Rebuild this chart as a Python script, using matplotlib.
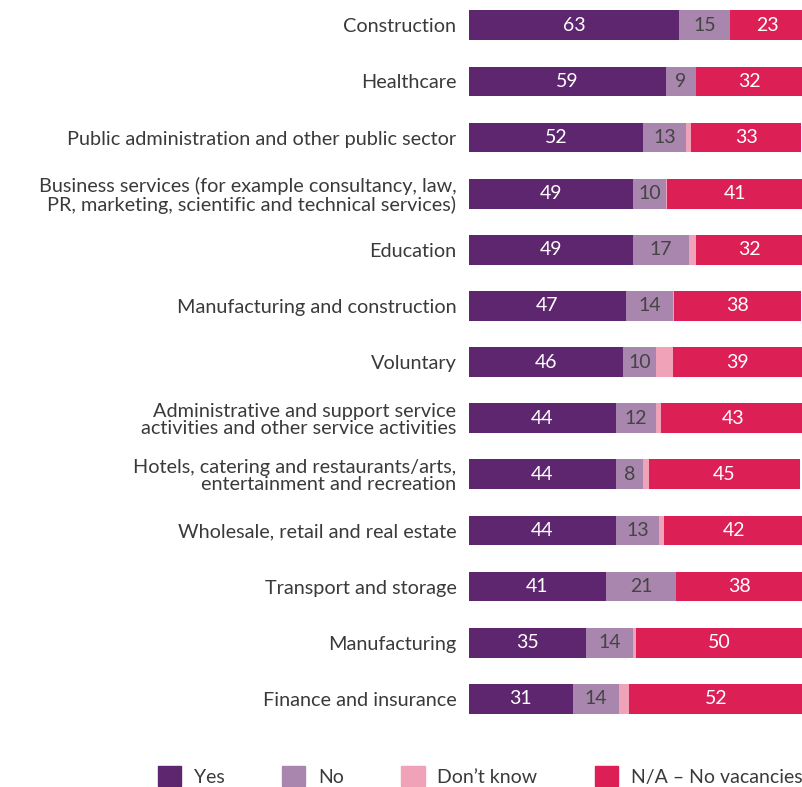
import matplotlib.pyplot as plt
import numpy as np
from matplotlib.patches import Patch

plt.rcParams['font.family'] = ['Lato', 'DejaVu Sans']

sectors = [
    "Construction",
    "Healthcare",
    "Public administration and other public sector",
    "Business services (for example consultancy, law,\nPR, marketing, scientific and technical services)",
    "Education",
    "Manufacturing and construction",
    "Voluntary",
    "Administrative and support service\nactivities and other service activities",
    "Hotels, catering and restaurants/arts,\nentertainment and recreation",
    "Wholesale, retail and real estate",
    "Transport and storage",
    "Manufacturing",
    "Finance and insurance",
]
yes = [63, 59, 52, 49, 49, 47, 46, 44, 44, 44, 41, 35, 31]
no = [15, 9, 13, 10, 17, 14, 10, 12, 8, 13, 21, 14, 14]
dont_know = [0, 0, 1.5, 0.3, 2, 0.5, 5, 1.5, 2, 1.5, 0, 1, 3]
no_vacancies = [23, 32, 33, 41, 32, 38, 39, 43, 45, 42, 38, 50, 52]

series = [
    ("Yes", yes, "#5e266e", "white"),
    ("No", no, "#a886ad", "#444444"),
    ("Don\u2019t know", dont_know, "#f0a3b8", None),
    ("N/A \u2013 No vacancies", no_vacancies, "#dc1f55", "white"),
]

fig = plt.figure(figsize=(8.03, 7.87), dpi=100)
ax = fig.add_axes([0.584, 0.08, 0.416, 0.92])

y = np.arange(len(sectors))
left = np.zeros(len(sectors))
for name, vals, color, txt in series:
    vals = np.array(vals, dtype=float)
    bars = ax.barh(y, vals, left=left, height=0.53, color=color, label=name)
    if txt is not None:
        for b, v in zip(bars, vals):
            ax.text(b.get_x() + b.get_width() / 2, b.get_y() + b.get_height() / 2,
                    f"{v:g}", ha="center", va="center", color=txt, fontsize=14)
    left += vals

ax.set_xlim(0, 100)
ax.set_ylim(len(sectors) - 0.55, -0.45)
ax.set_yticks(y)
ax.set_yticklabels(sectors, fontsize=14.3, color="#3a3a3a", linespacing=1.05)
ax.tick_params(axis="y", length=0, pad=9)
ax.set_xticks([])
for s in ax.spines.values():
    s.set_visible(False)

handles = [Patch(color=c, label=n) for n, _, c, _ in series]
fig.legend(handles=handles, loc="center", bbox_to_anchor=(0.598, 0.014), ncol=4,
           frameon=False, fontsize=14, handlelength=1.2, handleheight=1.15,
           columnspacing=2.95, handletextpad=0.65, labelcolor="#3a3a3a",
           borderaxespad=0, borderpad=0)

fig.savefig("out.png", dpi=100)
